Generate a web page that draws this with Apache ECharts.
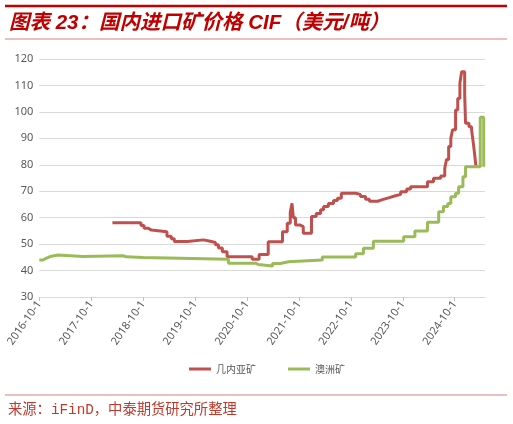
<!DOCTYPE html>
<html>
<head>
<meta charset="utf-8">
<script src="https://cdn.jsdelivr.net/npm/echarts@6/dist/echarts.min.js"></script>
<style>
html,body{margin:0;padding:0;background:#fff;}
#chart{width:513px;height:424px;}
</style>
</head>
<body>
<div id="chart"></div>
<script>
// x values are months since 2016-10-1; each point marks where a new price level starts (step line)
var yearTicks = [0, 12, 24, 36, 48, 60, 72, 84, 96];
var yearLabels = ['2016-10-1','2017-10-1','2018-10-1','2019-10-1','2020-10-1','2021-10-1','2022-10-1','2023-10-1','2024-10-1'];
var seriesNames = ['几内亚矿', '澳洲矿'];

var guineaData = [
  [16.9,58.1],[23.5,57],[24.2,56],[25.2,55.3],[25.9,54.7],[29.5,53],[30.5,52],[31.2,51],
  [34.2,51.6],[37.9,51.1],[39.5,50.6],[40.7,49.8],[41.4,48.5],[42.3,47.1],[43.4,45.2],
  [49.2,44.3],[50.8,46.1],[52.9,50.9],[56.2,54.7],[57.3,57.9],[58.0,62],[58.4,65.4],
  [58.7,60],[59.2,57.2],[60.3,56.6],[61.0,54.1],[62.9,60.4],[64.0,61.6],[65.0,63],
  [65.7,64.2],[66.8,65.4],[68.0,66.5],[68.9,67.3],[69.8,69.2],[73.1,68.8],[74.2,68],
  [75.4,67],[76.3,66.2],[78.2,66.8],[79.3,67.5],[80.7,68.2],[82.1,68.8],[83.5,69.8],
  [84.9,70.8],[85.8,71.7],[89.7,73.6],[91.1,74.9],[92.75,75.8],[93.7,78.7],[94.1,82],
  [94.6,86.9],[95.1,90],[95.5,93.2],[96.2,100.7],[96.7,105.1],[97.2,110.8],[97.6,115.2],
  [98.3,107],[98.5,95.7],[99.3,94.4],[99.9,93.2],[100.3,88.2],[100.6,84],[100.9,79.6]
];

var australiaData = [
  [0,44],[0.85,44.6],[1.55,45.3],[2.5,45.9],[4.3,45.3],[10.1,45.6],[19.4,45.2],[20.1,44.9],
  [24.0,44.3],[43.7,42.8],[49.9,42.3],[50.6,41.7],[53.9,42.7],[55.7,43.3],[57.6,44],
  [65.4,45.1],[73.1,46.4],[74.9,48.4],[77.2,51.1],[84.2,52.8],[86.8,55],[89.7,58.3],
  [92.3,62.2],[93.4,64.2],[94.4,65.4],[95.1,67.9],[96.2,69.2],[96.9,71.7],[97.9,75.5],
  [98.5,79.3],[101.9,98],[102.7,79.3]
];

var chart = echarts.init(document.getElementById('chart'), null, {renderer:'canvas'});
var option = {
  backgroundColor: '#ffffff',
  animation: false,
  graphic: [
    {type:'line', shape:{x1:5,y1:6,x2:507,y2:6}, style:{stroke:'#C00000', lineWidth:2.5}},
    {type:'text', left:9, top:13, style:{text:'图表 23：国内进口矿价格 CIF（美元/吨）', fill:'#C00000',
      font:'italic bold 20.5px "Liberation Sans", "Noto Sans CJK SC", sans-serif'}},
    {type:'line', shape:{x1:5,y1:39,x2:507,y2:39}, style:{stroke:'#D98080', lineWidth:1}},
    {type:'line', shape:{x1:5,y1:395,x2:507,y2:395}, style:{stroke:'#D98080', lineWidth:1}},
    {type:'text', left:8, top:403, style:{text:'来源：iFinD，中泰期货研究所整理', fill:'#C0392B',
      font:'14.3px "Liberation Mono", "Noto Sans CJK SC", monospace'}}
  ],
  grid: {left:39.3, right:28, top:59, bottom:127},
  legend: {
    left:184, top:359,
    itemWidth:22, itemHeight:3, itemGap:32,
    icon:'rect',
    textStyle:{color:'#595959', fontSize:10, fontFamily:'"Noto Sans CJK SC", sans-serif'},
    data: seriesNames
  },
  xAxis: {
    type:'value', min:0, max:103, interval:12,
    axisLine:{show:true, lineStyle:{color:'#D9D9D9', width:1}},
    axisTick:{show:true, length:4, customValues: yearTicks, lineStyle:{color:'#BFBFBF'}},
    splitLine:{show:false},
    axisLabel:{
      customValues: yearTicks,
      rotate:55, margin:5, color:'#595959', fontSize:11,
      fontFamily:'"Noto Sans", sans-serif',
      formatter:function(v){ var i = yearTicks.indexOf(Math.round(v)); return i >= 0 ? yearLabels[i] : ''; }
    }
  },
  yAxis: {
    type:'value', min:30, max:120, interval:10,
    axisLine:{show:false}, axisTick:{show:false},
    splitLine:{lineStyle:{color:'#D9D9D9', width:1}},
    axisLabel:{color:'#595959', fontSize:11, margin:6, fontFamily:'"Noto Sans", sans-serif'}
  },
  series: [
    {name:seriesNames[0], type:'line', step:'end', showSymbol:false, data:guineaData,
     lineStyle:{color:'#C0504D', width:3}, itemStyle:{color:'#C0504D'}},
    {name:seriesNames[1], type:'line', step:'end', showSymbol:false, data:australiaData,
     lineStyle:{color:'#9BBB59', width:3}, itemStyle:{color:'#9BBB59'}}
  ]
};
chart.setOption(option);
</script>
</body>
</html>
